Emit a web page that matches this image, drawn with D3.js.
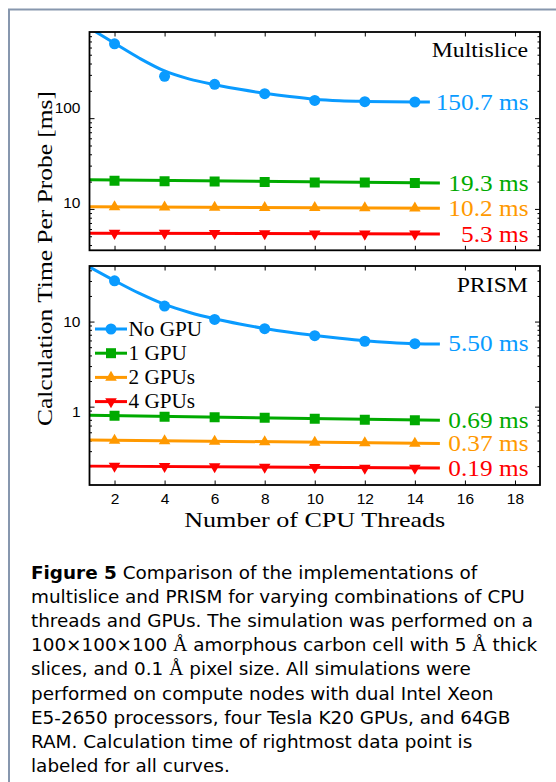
<!DOCTYPE html>
<html><head><meta charset="utf-8">
<script src="https://cdn.jsdelivr.net/npm/d3@7"></script>
<style>
html,body{margin:0;padding:0;background:#fff;}
svg{display:block;}
</style></head><body>
<svg id="chart" width="556" height="782"></svg>
<script>
// ---------------- data ----------------
const threads = [2, 4, 6, 8, 10, 12, 14];
const xTicks = [2, 4, 6, 8, 10, 12, 14, 16, 18];
const xDomain = [1, 19];
const seriesNames = ["No GPU", "1 GPU", "2 GPUs", "4 GPUs"];
const seriesColors = ["#0a9bff", "#00aa00", "#ff9900", "#ff0000"];
const seriesSymbols = ["circle", "square", "triangleUp", "triangleDown"];

// Multislice (ms per probe)
const multisliceYDomain = [3.5, 890];
const multisliceNoGPU = [660, 289, 236, 186, 157, 152, 150.7];
const multislice1GPU = [20.5, 20.2, 20.0, 19.8, 19.6, 19.5, 19.3];
const multislice2GPU = [10.5, 10.45, 10.4, 10.35, 10.3, 10.25, 10.2];
const multislice4GPU = [5.4, 5.4, 5.38, 5.35, 5.33, 5.3, 5.3];
const multisliceFitXNoGPU = [1, 2, 3, 4, 5, 6, 7, 8, 9, 10, 11, 12, 13, 14, 14.6];
const multisliceFitNoGPU = [984, 668, 457, 331, 269, 234, 208, 188, 173, 162, 156, 153, 151.3, 150.7, 150.5];
const multisliceFitXFlat = [1, 15];
const multisliceFit1GPU = [21.0, 19.3];
const multisliceFit2GPU = [10.55, 10.2];
const multisliceFit4GPU = [5.4, 5.3];
const multisliceLabels = ["150.7 ms", "19.3 ms", "10.2 ms", "5.3 ms"];

// PRISM (ms per probe)
const prismYDomain = [0.12, 45];
const prismNoGPU = [30.1, 15.2, 10.6, 8.26, 6.83, 5.87, 5.5];
const prism1GPU = [0.78, 0.76, 0.75, 0.74, 0.72, 0.70, 0.69];
const prism2GPU = [0.40, 0.395, 0.39, 0.385, 0.38, 0.375, 0.37];
const prism4GPU = [0.20, 0.199, 0.197, 0.195, 0.193, 0.19, 0.19];
const prismFitXNoGPU = [1, 2, 3, 4, 5, 6, 7, 8, 9, 10, 11, 12, 13, 14, 15];
const prismFitNoGPU = [43.8, 30.3, 21.4, 15.9, 12.8, 10.8, 9.37, 8.3, 7.49, 6.87, 6.36, 5.95, 5.67, 5.5, 5.45];
const prismFitXFlat = [1, 15];
const prismFit1GPU = [0.79, 0.69];
const prismFit2GPU = [0.405, 0.37];
const prismFit4GPU = [0.2, 0.19];
const prismLabels = ["5.50 ms", "0.69 ms", "0.37 ms", "0.19 ms"];

const yTitle = "Calculation Time Per Probe [ms]";
const xTitle = "Number of CPU Threads";
const captionLines = [
  "**Figure 5** Comparison of the implementations of",
  "multislice and PRISM for varying combinations of CPU",
  "threads and GPUs. The simulation was performed on a",
  "100×100×100 Å amorphous carbon cell with 5 Å thick",
  "slices, and 0.1 Å pixel size. All simulations were",
  "performed on compute nodes with dual Intel Xeon",
  "E5-2650 processors, four Tesla K20 GPUs, and 64GB",
  "RAM. Calculation time of rightmost data point is",
  "labeled for all curves."
];

// ---------------- layout ----------------
const SERIF = "'Liberation Serif','Times New Roman',serif";
const SANS = "'Liberation Sans',Arial,sans-serif";
const svg = d3.select("#chart");
const plotLeft = 89.5, plotRight = 540;
const x = d3.scaleLinear().domain(xDomain).range([plotLeft, plotRight]);

// outer frame
svg.append("path").attr("d", "M9,782V9.5H556")
  .attr("fill", "none").attr("stroke", "#8797ae").attr("stroke-width", 2);

function widen(sel, k) {
  sel.each(function () {
    const len = this.getComputedTextLength();
    d3.select(this).attr("textLength", len * k).attr("lengthAdjust", "spacingAndGlyphs");
  });
}

function symbolPath(kind) {
  if (kind === "circle") return d3.symbol().type(d3.symbolCircle).size(95)();
  if (kind === "square") return d3.symbol().type(d3.symbolSquare).size(100)();
  return d3.symbol().type(d3.symbolTriangle).size(58)();
}
function drawMarker(g, kind, cx, cy, color) {
  g.append("path").attr("d", symbolPath(kind))
    .attr("transform", `translate(${cx},${cy})` + (kind === "triangleDown" ? " rotate(180)" : ""))
    .attr("fill", color).attr("stroke", "none");
}

const panels = [
  {
    id: "ms", title: "Multislice", top: 32, bottom: 250.3, domain: multisliceYDomain,
    series: [multisliceNoGPU, multislice1GPU, multislice2GPU, multislice4GPU],
    fitX: [multisliceFitXNoGPU, multisliceFitXFlat, multisliceFitXFlat, multisliceFitXFlat],
    fits: [multisliceFitNoGPU, multisliceFit1GPU, multisliceFit2GPU, multisliceFit4GPU],
    labels: multisliceLabels, showX: false, shift: v => (v === 100 ? -10.5 : -6.5)
  },
  {
    id: "pr", title: "PRISM", top: 266, bottom: 485, domain: prismYDomain,
    series: [prismNoGPU, prism1GPU, prism2GPU, prism4GPU],
    fitX: [prismFitXNoGPU, prismFitXFlat, prismFitXFlat, prismFitXFlat],
    fits: [prismFitNoGPU, prismFit1GPU, prismFit2GPU, prismFit4GPU],
    labels: prismLabels, showX: true, shift: v => (v === 1 ? 4.5 : 0)
  }
];

const TICK_FS = 15.5;
panels.forEach(p => {
  const y = d3.scaleLog().domain(p.domain).range([p.bottom, p.top]);
  const g = svg.append("g");

  svg.append("clipPath").attr("id", "clip-" + p.id).append("rect")
    .attr("x", plotLeft).attr("y", p.top).attr("width", plotRight - plotLeft).attr("height", p.bottom - p.top);

  const allTicks = y.ticks();
  const major = allTicks.filter(v => Math.abs(Math.log10(v) - Math.round(Math.log10(v))) < 1e-9);
  const minor = allTicks.filter(v => !major.includes(v));

  const axStyle = a => {
    a.attr("font-size", TICK_FS).attr("font-family", SANS);
    a.select(".domain").remove();
    a.selectAll(".tick line").attr("stroke", "#000").attr("stroke-width", 1);
    a.selectAll("text").attr("font-family", SANS).attr("font-size", TICK_FS).attr("fill", "#000");
  };
  // x axes
  g.append("g").attr("transform", `translate(0,${p.bottom})`)
    .call(d3.axisBottom(x).tickValues(xTicks).tickSize(-4.5).tickPadding(8)
      .tickFormat(p.showX ? d3.format("d") : () => ""))
    .call(axStyle);
  g.append("g").attr("transform", `translate(0,${p.top})`)
    .call(d3.axisTop(x).tickValues(xTicks).tickSize(-4.5).tickFormat(() => ""))
    .call(axStyle);
  // y axes major
  const yl = g.append("g").attr("transform", `translate(${plotLeft},0)`)
    .call(d3.axisLeft(y).tickValues(major).tickSize(-5).tickPadding(9).tickFormat(d3.format("d")))
    .call(axStyle);
  yl.selectAll(".tick text").attr("dy", d => (0.34 * TICK_FS + p.shift(d)) + "px");
  g.append("g").attr("transform", `translate(${plotRight},0)`)
    .call(d3.axisRight(y).tickValues(major).tickSize(-5).tickFormat(() => ""))
    .call(axStyle);
  // y axes minor
  g.append("g").attr("transform", `translate(${plotLeft},0)`)
    .call(d3.axisLeft(y).tickValues(minor).tickSize(-2.5).tickFormat(() => ""))
    .call(axStyle);
  g.append("g").attr("transform", `translate(${plotRight},0)`)
    .call(d3.axisRight(y).tickValues(minor).tickSize(-2.5).tickFormat(() => ""))
    .call(axStyle);

  // fit curves
  const lines = g.append("g").attr("clip-path", `url(#clip-${p.id})`);
  p.fits.forEach((f, i) => {
    const pts = f.map((v, j) => [p.fitX[i][j], v]);
    const line = d3.line().x(d => x(d[0])).y(d => y(d[1]))
      .curve(pts.length > 2 ? d3.curveMonotoneX : d3.curveLinear);
    lines.append("path").attr("d", line(pts)).attr("fill", "none")
      .attr("stroke", seriesColors[i]).attr("stroke-width", 3).attr("stroke-linecap", "butt");
  });
  // markers
  p.series.forEach((s, i) => {
    s.forEach((v, j) => drawMarker(lines, seriesSymbols[i], x(threads[j]), y(v), seriesColors[i]));
  });

  // frame
  g.append("rect").attr("x", plotLeft).attr("y", p.top)
    .attr("width", plotRight - plotLeft).attr("height", p.bottom - p.top)
    .attr("fill", "none").attr("stroke", "#000").attr("stroke-width", 1.8);

  // value labels
  p.series.forEach((s, i) => {
    g.append("text").attr("x", 528.5).attr("y", y(s[s.length - 1])).attr("dy", "0.34em")
      .attr("text-anchor", "end").attr("font-family", SERIF).attr("font-size", 23)
      .attr("fill", seriesColors[i]).text(p.labels[i]).call(widen, 1.1);
  });
  // panel title
  g.append("text").attr("x", 528).attr("y", p.top + (p.id === "ms" ? 25.3 : 26.3))
    .attr("text-anchor", "end").attr("font-family", SERIF).attr("font-size", 22)
    .attr("fill", "#000").text(p.title).call(widen, 1.08);

  // legend in PRISM panel
  if (p.id === "pr") {
    const lg = g.append("g");
    seriesNames.forEach((n, i) => {
      const ly = 329 + i * 24.2;
      lg.append("line").attr("x1", 95).attr("x2", 127).attr("y1", ly).attr("y2", ly)
        .attr("stroke", seriesColors[i]).attr("stroke-width", 3);
      drawMarker(lg, seriesSymbols[i], 111, ly, seriesColors[i]);
      lg.append("text").attr("x", 128.5).attr("y", ly).attr("dy", "0.34em")
        .attr("font-family", SERIF).attr("font-size", 20).attr("fill", "#000")
        .text(n).call(widen, 1.06);
    });
  }
});

// axis titles
svg.append("text").attr("transform", "translate(51.5,258.5) rotate(-90)")
  .attr("text-anchor", "middle").attr("font-family", SERIF).attr("font-size", 22)
  .attr("textLength", 335).attr("lengthAdjust", "spacingAndGlyphs").text(yTitle);
svg.append("text").attr("x", 314.75).attr("y", 527)
  .attr("text-anchor", "middle").attr("font-family", SERIF).attr("font-size", 21.5)
  .attr("textLength", 261).attr("lengthAdjust", "spacingAndGlyphs").text(xTitle);

// caption
const cap = svg.append("g").attr("font-family", "'DejaVu Sans',sans-serif").attr("font-size", 18.4).attr("fill", "#000");
captionLines.forEach((ln, i) => {
  const t = cap.append("text").attr("x", 31).attr("y", 578.5 + i * 24.2);
  ln.split(/(\*\*[^*]+\*\*|Å)/).filter(s => s.length).forEach(part => {
    if (part.startsWith("**")) {
      t.append("tspan").attr("font-weight", "bold").text(part.slice(2, -2));
    } else if (part === "Å") {
      t.append("tspan").attr("font-family", SERIF).attr("font-size", 20).text("Å");
    } else {
      t.append("tspan").text(part);
    }
  });
});
</script>
</body></html>
